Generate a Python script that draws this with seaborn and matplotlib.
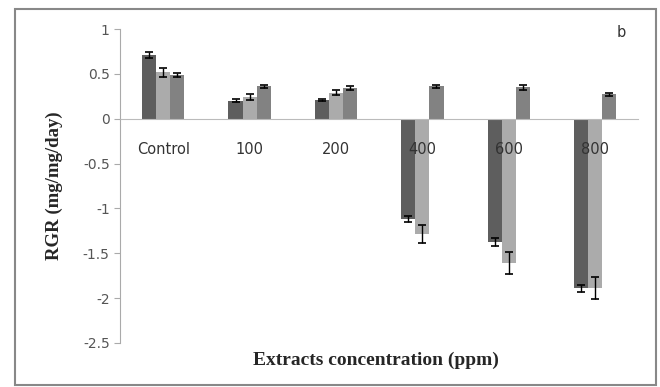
import matplotlib
matplotlib.use("Agg")
import matplotlib.pyplot as plt
import seaborn as sns
import pandas as pd
import numpy as np

concentracoes = ["Control", "100", "200", "400", "600", "800"]
series = ["s1", "s2", "s3"]
valores_s1 = [0.71, 0.20, 0.21, -1.12, -1.38, -1.89]
valores_s2 = [0.52, 0.24, 0.29, -1.29, -1.61, -1.89]
valores_s3 = [0.49, 0.36, 0.34, 0.36, 0.35, 0.27]
erros_s1 = [0.03, 0.015, 0.015, 0.03, 0.045, 0.04]
erros_s2 = [0.05, 0.03, 0.03, 0.10, 0.12, 0.12]
erros_s3 = [0.02, 0.02, 0.02, 0.02, 0.03, 0.02]
cores = ["#5e5e5e", "#ababab", "#828282"]

dados = pd.DataFrame({
    "conc": concentracoes * 3,
    "serie": np.repeat(series, len(concentracoes)),
    "rgr": valores_s1 + valores_s2 + valores_s3,
    "erro": erros_s1 + erros_s2 + erros_s3,
})

sns.set_style("white")
fig = plt.figure(figsize=(6.6, 3.87), dpi=100)
ax = fig.add_axes([0.182, 0.114, 0.785, 0.811])

sns.barplot(data=dados, x="conc", y="rgr", hue="serie", palette=cores,
            errorbar=None, width=0.49, ax=ax, legend=False, saturation=1,
            linewidth=0)

# barras de erro nas posicoes das barras
barras = [p for p in ax.patches if p.get_width() > 0]
for p, (_, linha) in zip(barras, dados.iterrows()):
    xc = p.get_x() + p.get_width() / 2
    ax.errorbar(xc, linha["rgr"], yerr=linha["erro"], fmt="none",
                ecolor="black", elinewidth=1, capsize=3, capthick=1.2)

ax.set_axisbelow(False)
ax.set_ylim(-2.5, 1)
ax.set_xlim(-0.5, 5.5)
ax.set_yticks([1, 0.5, 0, -0.5, -1, -1.5, -2, -2.5])
ax.set_yticklabels(["1", "0.5", "0", "-0.5", "-1", "-1.5", "-2", "-2.5"],
                   color="#555555", fontsize=10)
ax.tick_params(axis="y", direction="out", length=4, color="#aaaaaa", left=True)
ax.tick_params(axis="x", length=0, pad=17, labelsize=10.5, labelcolor="#333333")

for s in ["top", "right"]:
    ax.spines[s].set_visible(False)
ax.spines["left"].set_color("#aaaaaa")
ax.spines["bottom"].set_color("#bbbbbb")
ax.spines["bottom"].set_position(("data", 0))

ax.set_xlabel("")
ax.set_ylabel("RGR (mg/mg/day)", fontsize=13.5, fontweight="bold",
              family="Liberation Serif", labelpad=14)
fig.text(0.57, 0.07, "Extracts concentration (ppm)", ha="center", va="center",
         fontsize=14, fontweight="bold", family="Liberation Serif")
fig.text(0.935, 0.905, "b", fontsize=10.5, color="#333333")

# moldura externa
moldura = plt.Rectangle((0.023, 0.004), 0.971, 0.972, transform=fig.transFigure,
                        fill=False, edgecolor="#888888", linewidth=1.5)
fig.patches.append(moldura)

fig.savefig("out.png", dpi=100)
